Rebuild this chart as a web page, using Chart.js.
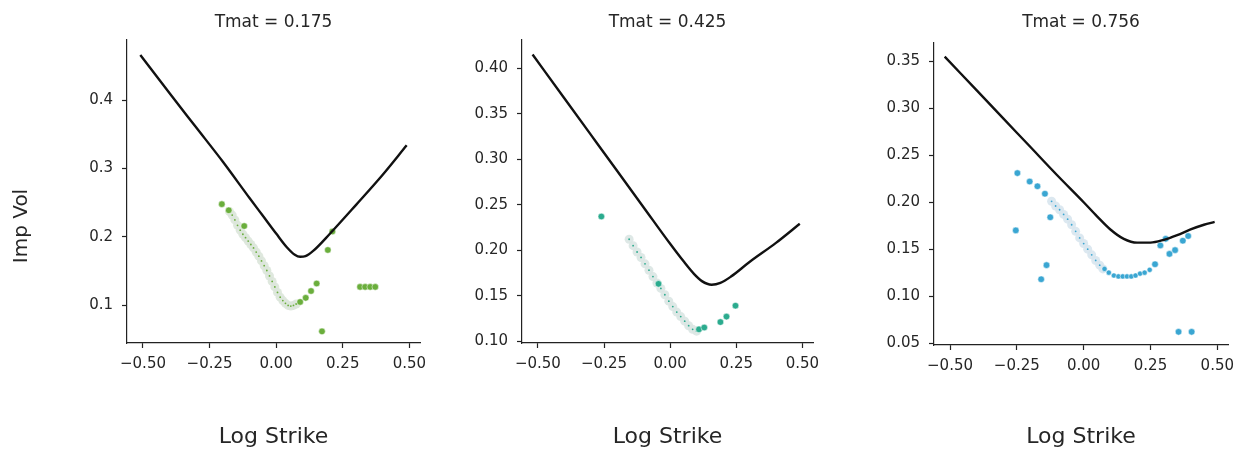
<!DOCTYPE html>
<html>
<head>
<meta charset="utf-8">
<script src="https://cdn.jsdelivr.net/npm/chart.js@4.4.0/dist/chart.umd.min.js"></script>
<style>
  body { margin: 0; background: #fff; }
  .panel { position: absolute; top: 0; height: 452px; }
</style>
</head>
<body>
<div class="panel" style="left:0;width:440px"><canvas id="c1"></canvas></div>
<div class="panel" style="left:440px;width:390px"><canvas id="c2"></canvas></div>
<div class="panel" style="left:830px;width:415px"><canvas id="c3"></canvas></div>
<script>
// tick positions and labels
const xTicks = [-0.5, -0.25, 0, 0.25, 0.5];
const xTickLabels = ['\u22120.50', '\u22120.25', '0.00', '0.25', '0.50'];
const yTicks1 = [0.1, 0.2, 0.3, 0.4];
const yTickLabels1 = ['0.1', '0.2', '0.3', '0.4'];
const yTicks2 = [0.10, 0.15, 0.20, 0.25, 0.30, 0.35, 0.40];
const yTickLabels2 = ['0.10', '0.15', '0.20', '0.25', '0.30', '0.35', '0.40'];
const yTicks3 = [0.05, 0.10, 0.15, 0.20, 0.25, 0.30, 0.35];
const yTickLabels3 = ['0.05', '0.10', '0.15', '0.20', '0.25', '0.30', '0.35'];
const titles = ['Tmat = 0.175', 'Tmat = 0.425', 'Tmat = 0.756'];

// Tmat = 0.175
const curveX1 = [-0.51, -0.4, -0.3, -0.2, -0.1, -0.05, 0, 0.04, 0.07, 0.09, 0.11, 0.14, 0.2, 0.3, 0.4, 0.49];
const curveY1 = [0.466, 0.41, 0.36, 0.31, 0.257, 0.231, 0.205, 0.185, 0.174, 0.171, 0.172, 0.18, 0.204, 0.247, 0.291, 0.334];
const bandX1 = [-0.175, -0.165, -0.155, -0.145, -0.135, -0.125, -0.115, -0.105, -0.095, -0.085, -0.075, -0.065, -0.055, -0.045, -0.035, -0.025, -0.015, -0.005, 0.005, 0.015, 0.025, 0.035, 0.045, 0.055, 0.065, 0.075];
const bandY1 = [0.237, 0.232, 0.225, 0.217, 0.210, 0.204, 0.199, 0.194, 0.189, 0.184, 0.178, 0.172, 0.165, 0.158, 0.151, 0.143, 0.135, 0.127, 0.119, 0.112, 0.107, 0.103, 0.100, 0.099, 0.100, 0.102];
const dotX1 = [-0.204, -0.178, -0.12, 0.09, 0.111, 0.131, 0.152, 0.172, 0.194, 0.211, 0.315, 0.334, 0.353, 0.372];
const dotY1 = [0.248, 0.239, 0.216, 0.105, 0.111, 0.121, 0.132, 0.062, 0.181, 0.208, 0.127, 0.127, 0.127, 0.127];

// Tmat = 0.425
const curveX2 = [-0.52, -0.4, -0.3, -0.2, -0.1, 0, 0.05, 0.09, 0.12, 0.157, 0.19, 0.23, 0.3, 0.4, 0.49];
const curveY2 = [0.415, 0.367, 0.327, 0.287, 0.247, 0.207, 0.188, 0.174, 0.166, 0.162, 0.164, 0.171, 0.187, 0.208, 0.229];
const bandX2 = [-0.155, -0.14, -0.125, -0.11, -0.095, -0.08, -0.065, -0.05, -0.035, -0.02, -0.005, 0.01, 0.025, 0.04, 0.055, 0.07, 0.085, 0.1];
const bandY2 = [0.212, 0.205, 0.198, 0.192, 0.185, 0.178, 0.171, 0.164, 0.158, 0.151, 0.144, 0.138, 0.132, 0.127, 0.122, 0.117, 0.113, 0.111];
const dotX2 = [-0.26, -0.044, 0.109, 0.129, 0.19, 0.213, 0.247];
const dotY2 = [0.237, 0.163, 0.113, 0.115, 0.121, 0.127, 0.139];

// Tmat = 0.756
const curveX3 = [-0.52, -0.4, -0.3, -0.2, -0.1, 0, 0.05, 0.1, 0.15, 0.2, 0.25, 0.3, 0.35, 0.4, 0.45, 0.49];
const curveY3 = [0.355, 0.319, 0.289, 0.259, 0.229, 0.2, 0.185, 0.171, 0.161, 0.157, 0.157, 0.160, 0.165, 0.171, 0.176, 0.179];
const bandX3 = [-0.12, -0.105, -0.09, -0.075, -0.06, -0.045, -0.03, -0.015, 0.0, 0.015, 0.03, 0.045, 0.06, 0.072];
const bandY3 = [0.201, 0.196, 0.192, 0.187, 0.182, 0.176, 0.169, 0.162, 0.156, 0.150, 0.144, 0.138, 0.133, 0.129];
const midX3 = [0.078, 0.094, 0.113, 0.13, 0.146, 0.162, 0.178, 0.194, 0.211, 0.228, 0.247];
const midY3 = [0.129, 0.125, 0.122, 0.121, 0.121, 0.121, 0.121, 0.122, 0.124, 0.125, 0.128];
const dotX3 = [-0.254, -0.248, -0.202, -0.173, -0.145, -0.125, -0.139, -0.159, 0.267, 0.287, 0.307, 0.321, 0.342, 0.371, 0.391, 0.355, 0.404];
const dotY3 = [0.170, 0.231, 0.222, 0.217, 0.209, 0.184, 0.133, 0.118, 0.134, 0.154, 0.161, 0.145, 0.149, 0.159, 0.164, 0.062, 0.062];

const FONT = 'DejaVu Sans';
const TXT = '#262626';

function pts(xs, ys) {
    return xs.map((x, i) => ({ x: x, y: ys[i] }));
}

// figure-level y label, only on the first panel
const impVolLabel = {
    id: 'impVolLabel',
    afterDraw(chart) {
        const ctx = chart.ctx;
        ctx.save();
        ctx.translate(22, 226);
        ctx.rotate(-Math.PI / 2);
        ctx.font = '20px "' + FONT + '"';
        ctx.fillStyle = TXT;
        ctx.textAlign = 'center';
        ctx.textBaseline = 'middle';
        ctx.fillText('Imp Vol', 0, 0);
        ctx.restore();
    }
};

function makePanel(id, p) {
    const datasets = [
        {
            type: 'line',
            data: pts(p.curveX, p.curveY),
            borderColor: '#111',
            borderWidth: 2.4,
            pointRadius: 0,
            fill: false,
            cubicInterpolationMode: 'monotone',
            order: 1
        },
        {
            type: 'scatter',
            data: pts(p.bandX, p.bandY),
            pointRadius: 4.5,
            backgroundColor: p.bandColor,
            borderWidth: 0,
            order: 4
        },
        {
            type: 'scatter',
            data: pts(p.bandX, p.bandY),
            pointRadius: 0.9,
            backgroundColor: p.color,
            borderWidth: 0,
            order: 3
        },
        {
            type: 'scatter',
            data: pts(p.dotX, p.dotY),
            pointRadius: 3.3,
            backgroundColor: p.color,
            borderColor: '#fff',
            borderWidth: 0.5,
            order: 2
        }
    ];
    if (p.midX) {
        datasets.push({
            type: 'scatter',
            data: pts(p.midX, p.midY),
            pointRadius: 2.6,
            backgroundColor: p.color,
            borderColor: '#fff',
            borderWidth: 0.5,
            order: 2
        });
    }
    new Chart(document.getElementById(id), {
        type: 'scatter',
        data: { datasets: datasets },
        options: {
            responsive: true,
            maintainAspectRatio: false,
            animation: false,
            events: [],
            layout: { padding: { left: 0, right: p.padRight, top: 0, bottom: 0 } },
            plugins: {
                legend: { display: false },
                tooltip: { enabled: false },
                title: {
                    display: true,
                    text: p.title,
                    fullSize: false,
                    color: TXT,
                    font: { family: FONT, size: 17, weight: 'normal' },
                    padding: { top: 12, bottom: p.top - 12 - 20.4 }
                }
            },
            scales: {
                x: {
                    type: 'linear',
                    min: -0.56,
                    max: 0.54,
                    afterBuildTicks: s => { s.ticks = xTicks.map(v => ({ value: v })); },
                    afterFit: s => { s.height = 452 - p.bottom; },
                    ticks: {
                        callback: (v) => xTickLabels[xTicks.indexOf(v)],
                        color: TXT,
                        font: { family: FONT, size: 15 },
                        padding: 7,
                        maxRotation: 0,
                        autoSkip: false
                    },
                    grid: { drawOnChartArea: false, drawTicks: true, tickLength: 5, tickColor: '#222', tickWidth: 1.2 },
                    border: { color: '#222', width: 1.2 },
                    title: {
                        display: true,
                        text: 'Log Strike',
                        color: TXT,
                        font: { family: FONT, size: 22 },
                        padding: { top: 0, bottom: 2 }
                    }
                },
                y: {
                    type: 'linear',
                    min: p.yMin,
                    max: p.yMax,
                    afterBuildTicks: s => { s.ticks = p.yTicks.map(v => ({ value: v })); },
                    afterFit: s => { s.width = p.yWidth; },
                    ticks: {
                        callback: (v) => p.yTickLabels[p.yTicks.indexOf(v)],
                        color: TXT,
                        font: { family: FONT, size: 15 },
                        padding: 9
                    },
                    grid: { drawOnChartArea: false, drawTicks: true, tickLength: 5, tickColor: '#222', tickWidth: 1.2 },
                    border: { color: '#222', width: 1.2 }
                }
            }
        },
        plugins: p.extra ? [p.extra] : []
    });
}

makePanel('c1', {
    title: titles[0], curveX: curveX1, curveY: curveY1, bandX: bandX1, bandY: bandY1,
    dotX: dotX1, dotY: dotY1, color: '#6aae3c', bandColor: 'rgba(220,230,218,0.9)',
    yTicks: yTicks1, yTickLabels: yTickLabels1, yMin: 0.045, yMax: 0.488,
    yWidth: 127, padRight: 20, top: 40, bottom: 343, extra: impVolLabel
});
makePanel('c2', {
    title: titles[1], curveX: curveX2, curveY: curveY2, bandX: bandX2, bandY: bandY2,
    dotX: dotX2, dotY: dotY2, color: '#2bab8e', bandColor: 'rgba(218,230,227,0.9)',
    yTicks: yTicks2, yTickLabels: yTickLabels2, yMin: 0.098, yMax: 0.431,
    yWidth: 82, padRight: 17, top: 40, bottom: 343
});
makePanel('c3', {
    title: titles[2], curveX: curveX3, curveY: curveY3, bandX: bandX3, bandY: bandY3,
    midX: midX3, midY: midY3,
    dotX: dotX3, dotY: dotY3, color: '#3aa6d2', bandColor: 'rgba(216,229,238,0.9)',
    yTicks: yTicks3, yTickLabels: yTickLabels3, yMin: 0.048, yMax: 0.3695,
    yWidth: 104, padRight: 17, top: 43, bottom: 345
});
</script>
</body>
</html>
